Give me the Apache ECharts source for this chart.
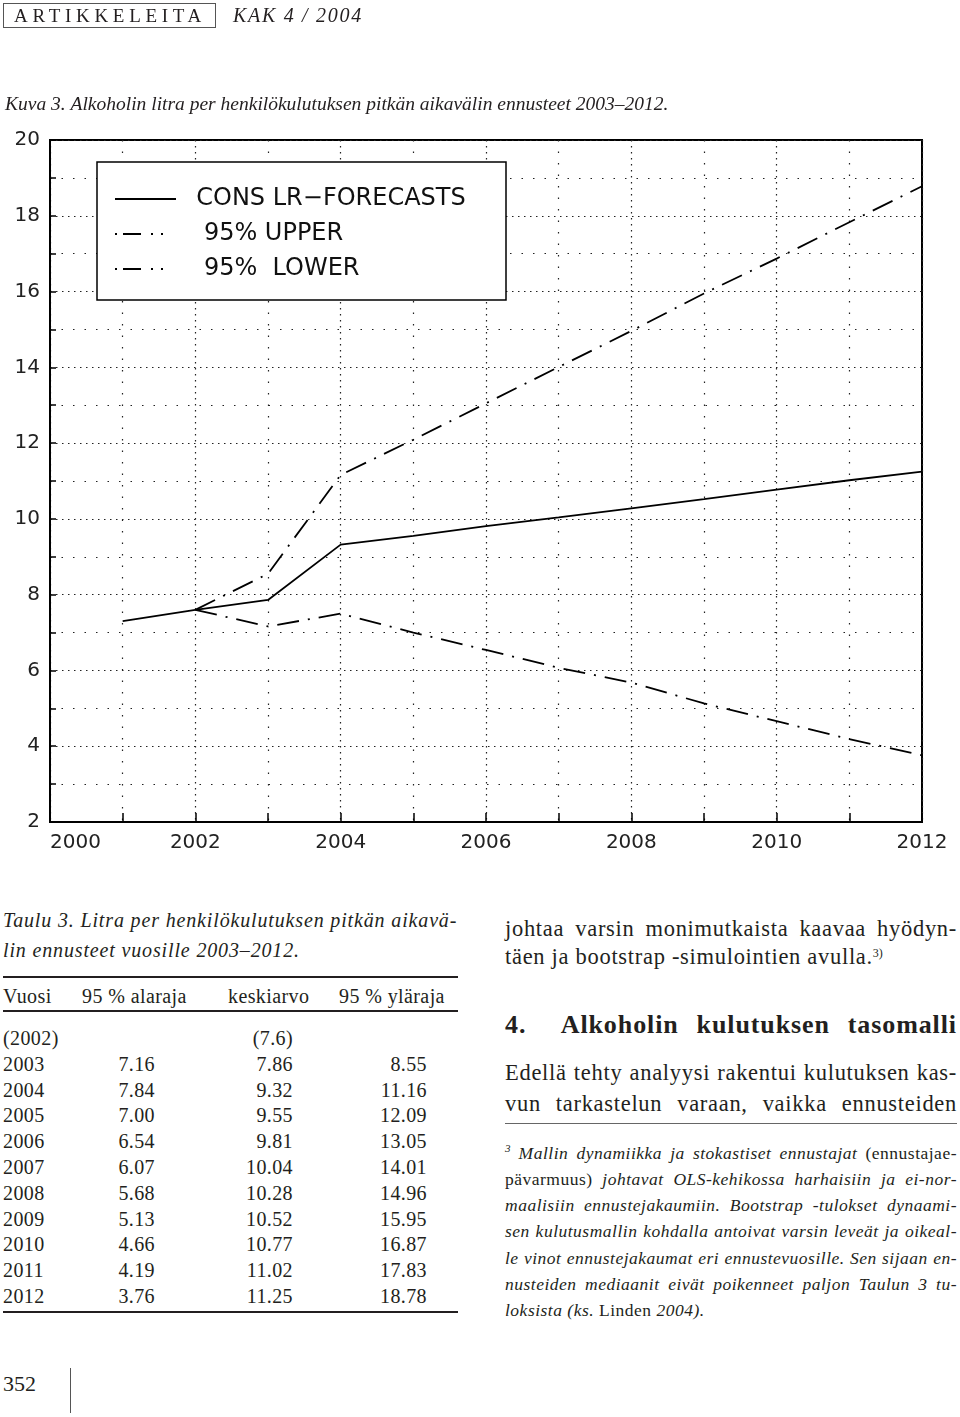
<!DOCTYPE html>
<html><head><meta charset="utf-8">
<script src="https://cdn.jsdelivr.net/npm/echarts@6/dist/echarts.min.js"></script>
<style>
html,body{margin:0;padding:0;background:#fff;}
#page{position:relative;width:960px;height:1417px;overflow:hidden;font-family:"Liberation Serif","DejaVu Serif",serif;color:#231f20;background:#fff;}
#chart{position:absolute;left:0;top:0;width:960px;height:880px;z-index:0;}
.abs{position:absolute;white-space:nowrap;z-index:2;}
.jl{position:absolute;left:505px;width:452px;text-align:justify;text-align-last:justify;white-space:nowrap;}
.ll{position:absolute;left:505px;width:452px;white-space:nowrap;}
.rule{position:absolute;background:#231f20;}
.row{position:absolute;left:0;width:460px;height:26px;line-height:26px;font-size:20px;letter-spacing:0.4px;}
.row span{position:absolute;top:0;}
.fn{font-size:17.5px;line-height:26px;letter-spacing:0.5px;}
.bt{font-size:22.5px;line-height:28px;letter-spacing:0.7px;}
.sup{position:relative;top:-7px;font-size:12px;letter-spacing:0;}
i{font-style:italic;}
</style></head>
<body><div id="page">
<div id="chart"></div>
<div class="abs" style="left:3px;top:3px;width:211px;height:23px;border:1px solid #555;"></div>
<div class="abs" style="left:14px;top:3px;line-height:25px;font-size:19px;letter-spacing:4.7px;">ARTIKKELEITA</div>
<div class="abs" style="left:233px;top:3px;line-height:25px;font-size:20px;font-style:italic;letter-spacing:1.7px;">KAK 4 / 2004</div>

<div class="abs" style="left:3px;top:905px;line-height:30px;font-size:20px;font-style:italic;letter-spacing:0.85px;">Taulu 3. Litra per henkilökulutuksen pitkän aikavä-<br>lin ennusteet vuosille 2003–2012.</div>
<div class="rule" style="left:3px;top:976px;width:455px;height:1.5px;"></div>
<div class="row" style="top:983px;"><span style="left:3px;">Vuosi</span><span style="left:82px;">95 % alaraja</span><span style="left:228px;">keskiarvo</span><span style="left:339px;">95 % yläraja</span></div>
<div class="rule" style="left:3px;top:1010px;width:455px;height:1.5px;"></div>
<div id="tbody"></div>
<div class="rule" style="left:3px;top:1311px;width:455px;height:1.5px;"></div>

<div class="abs" style="left:3px;top:1369px;line-height:30px;font-size:22px;">352</div>
<div class="rule" style="left:70px;top:1368px;width:1px;height:45px;background:#555;"></div>

<div class="jl bt" style="top:915px;">johtaa varsin monimutkaista kaavaa hyödyn-</div>
<div class="ll bt" style="top:943px;">täen ja bootstrap -simulointien avulla.<span class="sup">3)</span></div>
<div class="jl" style="top:1010px;line-height:30px;font-size:26px;font-weight:bold;letter-spacing:0.9px;">4.&nbsp; Alkoholin kulutuksen tasomalli</div>
<div class="jl bt" style="top:1059px;">Edellä tehty analyysi rakentui kulutuksen kas-</div>
<div class="jl bt" style="top:1090px;">vun tarkastelun varaan, vaikka ennusteiden</div>
<div class="rule" style="left:505px;top:1123px;width:452px;height:1px;background:#666;"></div>
<div class="jl fn" style="top:1140px;"><i><span class="sup" style="font-size:11px;">3</span> Mallin dynamiikka ja stokastiset ennustajat</i> (ennustajae-</div>
<div class="jl fn" style="top:1166px;">pävarmuus) <i>johtavat OLS-kehikossa harhaisiin ja ei-nor-</i></div>
<div class="jl fn" style="top:1192px;"><i>maalisiin ennustejakaumiin. Bootstrap -tulokset dynaami-</i></div>
<div class="jl fn" style="top:1218px;"><i>sen kulutusmallin kohdalla antoivat varsin leveät ja oikeal-</i></div>
<div class="jl fn" style="top:1245px;"><i>le vinot ennustejakaumat eri ennustevuosille. Sen sijaan en-</i></div>
<div class="jl fn" style="top:1271px;"><i>nusteiden mediaanit eivät poikenneet paljon Taulun 3 tu-</i></div>
<div class="ll fn" style="top:1297px;"><i>loksista (ks.</i> Linden <i>2004).</i></div>
</div>
<script>
// ---- chart data ----
const consYears = [2001, 2002, 2003, 2004, 2005, 2006, 2007, 2008, 2009, 2010, 2011, 2012];
const consValues = [7.3, 7.6, 7.86, 9.32, 9.55, 9.81, 10.04, 10.28, 10.52, 10.77, 11.02, 11.25];
const bandYears = [2002, 2003, 2004, 2005, 2006, 2007, 2008, 2009, 2010, 2011, 2012];
const upperValues = [7.6, 8.55, 11.16, 12.09, 13.05, 14.01, 14.96, 15.95, 16.87, 17.83, 18.78];
const lowerValues = [7.6, 7.16, 7.5, 7.00, 6.54, 6.07, 5.68, 5.13, 4.66, 4.19, 3.76];
const seriesNames = ['CONS LR\u2212FORECASTS', '95% UPPER', '95%  LOWER'];

// ---- table data (Taulu 3) ----
const tableYears = ['(2002)', '2003', '2004', '2005', '2006', '2007', '2008', '2009', '2010', '2011', '2012'];
const tableLower = ['', '7.16', '7.84', '7.00', '6.54', '6.07', '5.68', '5.13', '4.66', '4.19', '3.76'];
const tableMean = ['(7.6)', '7.86', '9.32', '9.55', '9.81', '10.04', '10.28', '10.52', '10.77', '11.02', '11.25'];
const tableUpper = ['', '8.55', '11.16', '12.09', '13.05', '14.01', '14.96', '15.95', '16.87', '17.83', '18.78'];

const tbody = document.getElementById('tbody');
tableYears.forEach((y, i) => {
  const d = document.createElement('div');
  d.className = 'row';
  d.style.top = (1025 + i * 25.8) + 'px';
  d.innerHTML = '<span style="left:3px;">' + y + '</span>' +
    '<span style="right:' + (460 - 155) + 'px;">' + tableLower[i] + '</span>' +
    '<span style="right:' + (460 - 293) + 'px;">' + tableMean[i] + '</span>' +
    '<span style="right:' + (460 - 427) + 'px;">' + tableUpper[i] + '</span>';
  tbody.appendChild(d);
});

const SANS = '"DejaVu Sans", sans-serif';
const dashDot = [22, 9, 2, 9];
const legendDash = [2, 6, 18, 10, 2, 8, 2, 20];
const chart = echarts.init(document.getElementById('chart'), null, {renderer: 'canvas'});
chart.setOption({
  animation: false,
  backgroundColor: 'transparent',
  title: {
    text: 'Kuva 3. Alkoholin litra per henkilökulutuksen pitkän aikavälin ennusteet 2003\u20132012.',
    left: 5, top: 95, padding: 0,
    textStyle: {fontFamily: '"Liberation Serif", serif', fontStyle: 'italic', fontWeight: 'normal', fontSize: 19.5, color: '#231f20'}
  },
  grid: {left: 50, right: 38, top: 140, bottom: 58, show: true, borderColor: '#000', borderWidth: 2, backgroundColor: 'transparent'},
  xAxis: {
    type: 'value', min: 2000, max: 2012, interval: 2,
    axisLine: {show: true, lineStyle: {color: '#000', width: 2}},
    axisTick: {show: true, inside: true, length: 9, lineStyle: {color: '#000', width: 1.5}},
    minorTick: {show: true, splitNumber: 2, length: 9, lineStyle: {color: '#000', width: 1.5}},
    splitLine: {show: true, lineStyle: {color: '#222', width: 1.2, type: [1.5, 4.5]}},
    minorSplitLine: {show: true, lineStyle: {color: '#222', width: 1.2, type: [1.5, 10]}},
    axisLabel: {fontFamily: SANS, fontSize: 20, color: '#222', margin: 11, alignMinLabel: 'left', formatter: v => String(v)}
  },
  yAxis: {
    type: 'value', min: 2, max: 20, interval: 2,
    axisLine: {show: true, lineStyle: {color: '#000', width: 2}},
    axisTick: {show: true, inside: true, length: 6, lineStyle: {color: '#000', width: 1.5}},
    minorTick: {show: true, splitNumber: 2, length: 6, lineStyle: {color: '#000', width: 1.5}},
    splitLine: {show: true, lineStyle: {color: '#222', width: 1.2, type: [1.5, 4.5]}},
    minorSplitLine: {show: true, lineStyle: {color: '#222', width: 1.2, type: [1.5, 10]}},
    axisLabel: {fontFamily: SANS, fontSize: 20, color: '#222', margin: 10, formatter: v => String(v)}
  },
  legend: {
    orient: 'vertical', left: 114, top: 187, padding: 0, z: 10,
    itemWidth: 61, itemHeight: 14, itemGap: 11,
    itemStyle: {color: 'rgba(0,0,0,0)', borderColor: 'rgba(0,0,0,0)', borderWidth: 0, opacity: 0},
    textStyle: {fontFamily: SANS, fontSize: 24, color: '#111'},
    formatter: n => (n === seriesNames[0] ? '  ' : '   ') + n,
    data: [
      {name: seriesNames[0]},
      {name: seriesNames[1], lineStyle: {type: legendDash}},
      {name: seriesNames[2], lineStyle: {type: legendDash}}
    ]
  },
  graphic: [{
    type: 'rect', z: 5,
    shape: {x: 97, y: 162, width: 409, height: 138},
    style: {fill: '#fff', stroke: '#000', lineWidth: 1.5}
  }],
  series: [
    {name: seriesNames[0], type: 'line', symbol: 'none', z: 3, color: '#000',
      lineStyle: {color: '#000', width: 1.8, type: 'solid'},
      data: consYears.map((y, i) => [y, consValues[i]])},
    {name: seriesNames[1], type: 'line', symbol: 'none', z: 3, color: '#000',
      lineStyle: {color: '#000', width: 1.8, type: dashDot},
      data: bandYears.map((y, i) => [y, upperValues[i]])},
    {name: seriesNames[2], type: 'line', symbol: 'none', z: 3, color: '#000',
      lineStyle: {color: '#000', width: 1.8, type: dashDot},
      data: bandYears.map((y, i) => [y, lowerValues[i]])}
  ]
});
</script>
</body></html>
